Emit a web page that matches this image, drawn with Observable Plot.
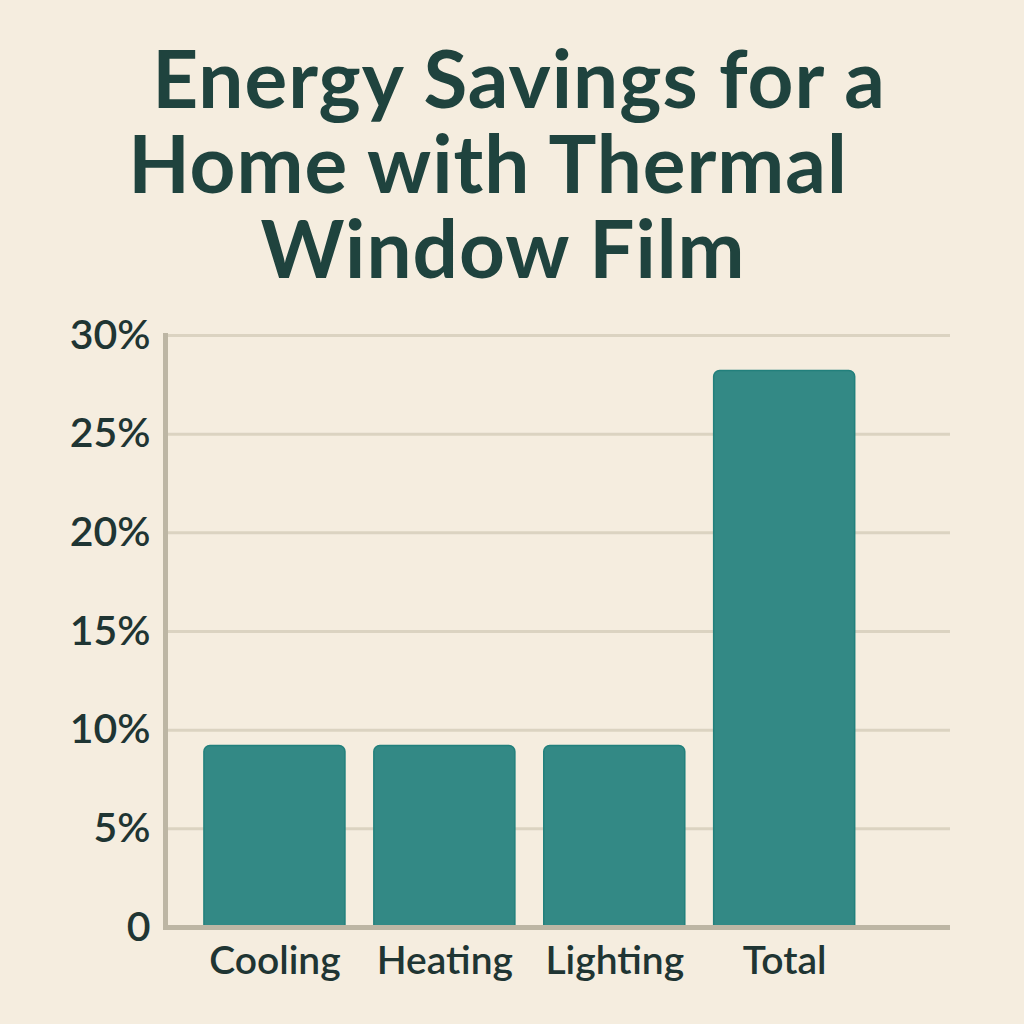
<!DOCTYPE html>
<html>
<head>
<meta charset="utf-8">
<script src="https://cdn.jsdelivr.net/npm/d3@7"></script>
<script src="https://cdn.jsdelivr.net/npm/@observablehq/plot@0.6"></script>
<style>
  html, body { margin: 0; padding: 0; background: #f5eddf; }
  #wrap { width: 1024px; height: 1024px; overflow: hidden; background: #f5eddf; }
  #title {
    width: 1024px; height: 265px; margin: 0; padding-top: 35px;
    font-family: Lato, "Open Sans", sans-serif; font-weight: 700;
    font-size: 80px; letter-spacing: 1px; color: #1f433e;
  }
  #title div { height: 85px; line-height: 85px; text-align: center; white-space: nowrap; }
  svg { display: block; }
</style>
</head>
<body>
<div id="wrap">
  <div id="title">
    <div style="width:1038px">Energy Savings for a</div>
    <div style="width:976px">Home with Thermal</div>
    <div style="width:1006px">Window Film</div>
  </div>
  <div id="chart"></div>
</div>
<script>
const categories = ["Cooling", "Heating", "Lighting", "Total"];
const savings = [9.2, 9.2, 9.2, 28.2];
const yTicks = [0, 5, 10, 15, 20, 25, 30];

const data = categories.map((c, i) => ({category: c, value: savings[i]}));

const chart = Plot.plot({
  width: 1024,
  height: 724,
  marginLeft: 165,
  marginRight: 74,
  marginTop: 35,
  marginBottom: 97,
  style: {background: "transparent", fontFamily: "Lato, 'Open Sans', sans-serif", color: "#1f3533"},
  x: {domain: categories, paddingInner: 0.17, paddingOuter: 0.395, align: 0.29, round: false, label: null},
  y: {domain: [0, 30], ticks: yTicks, label: null},
  marks: [
    Plot.gridY(yTicks, {stroke: "#dbd3c1", strokeOpacity: 1, strokeWidth: 3}),
    Plot.barY(data, {x: "category", y: "value", fill: "#338985", stroke: "#22807c", strokeWidth: 1.5, ry1: 6}),
    Plot.ruleY([0], {stroke: "#bdb6a4", strokeWidth: 5}),
    Plot.frame({anchor: "left", stroke: "#bdb6a4", strokeWidth: 5}),
    Plot.axisY(yTicks, {tickSize: 0, tickPadding: 15, fontSize: 41, fontWeight: 600, fill: "#1f3533",
      tickFormat: d => d === 0 ? "0" : d + "%"}),
    Plot.axisX({tickSize: 0, tickPadding: 19, fontSize: 39, fontWeight: 600, fill: "#1f3533"})
  ]
});
document.getElementById("chart").appendChild(chart);
</script>
</body>
</html>
